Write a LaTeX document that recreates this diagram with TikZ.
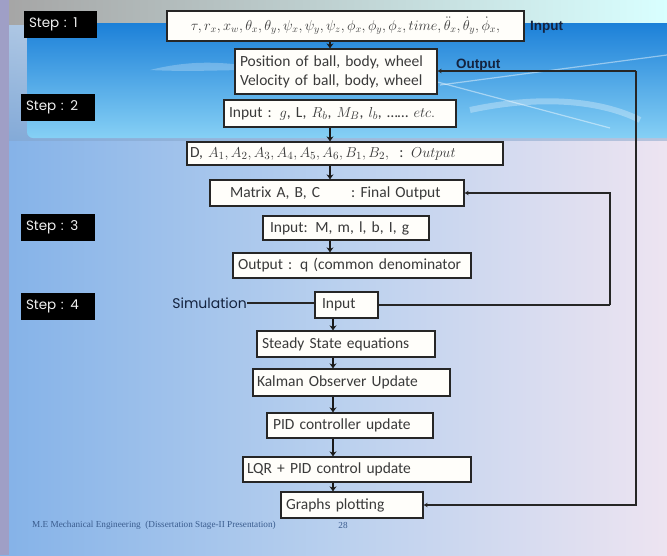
\documentclass[tikz,border=0pt]{standalone}
\usepackage{fontspec}
\setmainfont{Carlito}
\newfontfamily\stepfont{Poppins}
\newfontfamily\labfont{Liberation Sans}
\newfontfamily\footfont{Liberation Serif}
\usetikzlibrary{arrows.meta}
\definecolor{bgL}{HTML}{84B2E8}
\definecolor{bgM}{HTML}{B9D0EE}
\definecolor{bgR}{HTML}{EDE4F1}
\definecolor{bnT}{HTML}{1C80D8}
\definecolor{bnB}{HTML}{86D0F5}
\definecolor{navy}{HTML}{14233F}
\definecolor{boxtxt}{HTML}{3A3A3A}
\definecolor{boxfill}{HTML}{FFFEFA}
\definecolor{foot}{HTML}{3A5C8E}
\begin{document}
\begin{tikzpicture}[x=1pt,y=-1pt,
  bx/.style={draw=black!85, line width=1.3pt, fill=boxfill, inner xsep=5pt, inner ysep=0pt,
    align=left, text=boxtxt, font=\fontsize{15.5}{19}\selectfont},
  stepbox/.style={fill=black, text=white!88!gray, font=\stepfont\fontsize{13.5}{15}\selectfont,
    inner xsep=5pt, inner ysep=0pt, minimum height=27pt, align=left},
  down/.style={line width=1.8pt, draw=black!90, -{Stealth[length=5pt,width=7pt]}},
  loopline/.style={line width=1.2pt, draw=black!85},
  looptip/.style={-{Stealth[length=4pt,width=4.5pt]}},
  lab/.style={text=navy, font=\labfont\bfseries\fontsize{13.5}{15}\selectfont, inner sep=0pt}]
% ---------- background ----------
\useasboundingbox (0,0) rectangle (667,555);
\shade[left color=bgL, right color=bgR, middle color=bgM] (0,0) rectangle (667,555);
\shade[top color=white!80!gray, bottom color=bgL!70!gray, opacity=0.5] (0,0) rectangle (667,140);
\fill[gray!75!blue!60] (0,0) rectangle (9,555);
\shade[left color=gray!70, right color=white!85!cyan] (9,0) rectangle (667,24);
\shade[top color=bnT, bottom color=bnB, rounded corners=6pt] (27,23) rectangle (680,138);
\fill[white, opacity=0.25] (150,70) .. controls (190,60) and (220,62) .. (250,66) -- (250,70) .. controls (220,70) and (190,72) .. (150,70) -- cycle;
\draw[white, opacity=0.45, line width=1.2pt] (440,85) -- (667,55);
\draw[white, opacity=0.45, line width=1.2pt] (430,80) -- (610,128);
\draw[white, opacity=0.3, line width=6pt] (470,110) .. controls (540,95) and (600,100) .. (640,120);
% ---------- step labels ----------
\node[stepbox, minimum width=73pt, text width=63pt] (s1) at (60.5,24.5) {Step : 1};
\node[stepbox, minimum width=74pt, text width=64pt] (s2) at (58,107.5) {Step : 2};
\node[stepbox, minimum width=74pt, text width=64pt] (s3) at (58,227.5) {Step : 3};
\node[stepbox, minimum width=74pt, text width=64pt] (s4) at (58,306) {Step : 4};
% ---------- boxes ----------
\node[bx, align=center, text width=349pt, inner xsep=4pt, minimum height=30pt, font=\fontsize{14}{16}\selectfont] (b1) at (345.5,26)
  {$\tau, r_x, x_w, \theta_x, \theta_y, \psi_x, \psi_y, \psi_z, \phi_x, \phi_y, \phi_z, time, \ddot{\theta}_x, \dot{\theta}_y, \dot{\phi}_x,$};
\node[bx, text width=192pt, minimum height=45pt] (b2) at (336,71.5)
  {Position of ball, body, wheel\\Velocity of ball, body, wheel};
\node[bx, text width=222pt, minimum height=27pt] (b3) at (340,113.5)
  {Input : $g$, L, $R_b$, $M_B$, $l_b$, \ldots\ldots\ $etc.$};
\node[bx, text width=310pt, minimum height=23pt, inner xsep=3pt] (b4) at (345,153.5)
  {D, $A_1, A_2, A_3, A_4, A_5, A_6, B_1, B_2,$ \ : $Output$};
\node[bx, text width=214pt, inner xsep=20pt, minimum height=26pt] (b5) at (337,193)
  {Matrix A, B, C \quad\ \ : Final Output};
\node[bx, text width=152pt, inner xsep=7pt, minimum height=24pt] (b6) at (346,228)
  {Input: M, m, l, b, I, g};
\node[bx, text width=228pt, minimum height=25pt] (b7) at (352,265.5)
  {Output : q (common denominator};
\node[bx, text width=49pt, inner xsep=7pt, minimum height=26pt] (in) at (346.5,305) {Input};
\node[bx, text width=168pt, minimum height=26pt] (ss) at (346,344) {Steady State equations};
\node[bx, text width=189pt, minimum height=27pt, inner xsep=4pt] (ka) at (351.5,382.5) {Kalman Observer Update};
\node[bx, text width=154pt, minimum height=25pt, inner xsep=6pt] (pid) at (350,425.5) {PID controller update};
\node[bx, text width=220pt, minimum height=25pt, inner xsep=4pt] (lqr) at (357,469.5) {LQR + PID control update};
\node[bx, text width=132pt, minimum height=26pt, inner xsep=5pt] (gr) at (352,505) {Graphs plotting};
% ---------- side labels ----------
\node[lab, anchor=west] (lin) at (530,27) {Input};
\node[lab, anchor=west] (lout) at (456,65) {Output};
\node[text=navy, font=\stepfont\fontsize{14}{16}\selectfont, inner sep=0pt, anchor=east] (sim) at (247,303) {Simulation};
\node[text=foot, font=\footfont\fontsize{9.2}{10}\selectfont, inner sep=0pt, anchor=west] (ft) at (32,525)
  {M.E Mechanical Engineering \ (Dissertation Stage-II Presentation)};
\node[text=foot, font=\footfont\fontsize{9.2}{10}\selectfont, inner sep=0pt] (pg) at (343,525) {28};
% ---------- axes ----------
\coordinate (ax) at (330,0);
\coordinate (bx2) at (333,0);
\coordinate (ro) at (636,0);
\coordinate (ri) at (610,0);
% ---------- vertical connectors ----------
\draw[down] (b1.south -| ax) -- (b2.north -| ax);
\draw[down] (b3.south -| ax) -- (b4.north -| ax);
\draw[down] (b4.south -| ax) -- (b5.north -| ax);
\draw[down] (b6.south -| ax) -- (b7.north -| ax);
\draw[down] (in.south -| bx2) -- (ss.north -| bx2);
\draw[down] (ss.south -| bx2) -- (ka.north -| bx2);
\draw[down] (ka.south -| bx2) -- (pid.north -| bx2);
\draw[down] (pid.south -| bx2) -- (lqr.north -| bx2);
\draw[down] (lqr.south -| bx2) -- (gr.north -| bx2);
% ---------- loops ----------
\coordinate (o1) at ([yshift=0.5pt]b2.east);
\draw[loopline, looptip] (ro |- o1) -- (o1);
\draw[loopline, looptip] (ro |- o1) -- (ro |- gr.east) -- (gr.east);
\draw[loopline, looptip] (ri |- in.east) -- (ri |- b5.east) -- (b5.east);
\draw[loopline] (ri |- in.east) -- (in.east);
\draw[line width=1.5pt, draw=black!85] (sim.east) -- (in.west |- sim.east);
\end{tikzpicture}
\end{document}
